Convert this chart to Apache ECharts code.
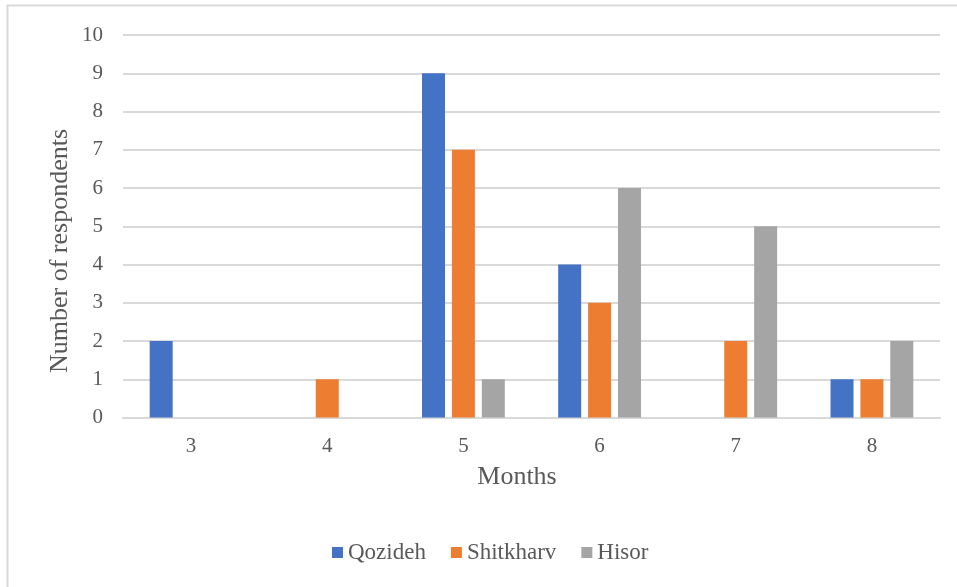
<!DOCTYPE html>
<html>
<head>
<meta charset="utf-8">
<script src="https://cdn.jsdelivr.net/npm/echarts@6/dist/echarts.min.js"></script>
<style>
  html, body { margin: 0; padding: 0; background: #fff; }
  #chart { width: 957px; height: 587px; }
</style>
</head>
<body>
<div id="chart"></div>
<script>
// Months of stay and respondent counts per village
const months = ['3', '4', '5', '6', '7', '8'];
const qozideh = [2, 0, 9, 4, 0, 1];
const shitkharv = [0, 1, 7, 3, 2, 1];
const hisor = [0, 0, 1, 6, 5, 2];
const yTicks = { min: 0, max: 10, interval: 1 };

const font = '"Liberation Serif", "Times New Roman", serif';
const textGray = '#595959';

const chart = echarts.init(document.getElementById('chart'), null, { renderer: 'canvas' });

function barSeries(name, data, color) {
  return {
    name: name,
    type: 'bar',
    data: data.map(v => (v === 0 ? null : v)),
    barWidth: 23,
    barGap: '30%',
    itemStyle: { color: color },
    emphasis: { disabled: true }
  };
}

chart.setOption({
  animation: false,
  backgroundColor: '#fff',
  color: ['#4472C4', '#ED7D31', '#A5A5A5'],
  grid: { left: 123, right: 17, top: 35, bottom: 169.5 },
  graphic: [
    {
      type: 'rect',
      shape: { x: 7.5, y: 5.5, width: 1000, height: 1000 },
      style: { fill: 'none', stroke: '#d9d9d9', lineWidth: 2 },
      silent: true
    },
    {
      type: 'text',
      x: 60, y: 251, rotation: Math.PI / 2,
      style: {
        text: 'Number of respondents', font: '26px ' + font, fill: textGray,
        textAlign: 'center', textVerticalAlign: 'middle'
      }
    },
    {
      type: 'text',
      x: 517, y: 477,
      style: {
        text: 'Months', font: '26px ' + font, fill: textGray,
        textAlign: 'center', textVerticalAlign: 'middle'
      }
    }
  ],
  legend: {
    left: 327, top: 536,
    itemWidth: 11, itemHeight: 11, itemGap: 25,
    icon: 'rect',
    textStyle: { fontFamily: font, fontSize: 23, color: textGray },
    data: ['Qozideh', 'Shitkharv', 'Hisor']
  },
  xAxis: {
    type: 'category',
    data: months,
    axisLine: { show: true, lineStyle: { color: '#d9d9d9', width: 2 } },
    axisTick: { show: false },
    axisLabel: { color: textGray, fontFamily: font, fontSize: 21, margin: 18 }
  },
  yAxis: {
    type: 'value',
    min: yTicks.min, max: yTicks.max, interval: yTicks.interval,
    axisLine: { show: false },
    axisTick: { show: false },
    splitLine: { lineStyle: { color: '#d9d9d9', width: 2 } },
    axisLabel: { color: textGray, fontFamily: font, fontSize: 21, margin: 20 }
  },
  series: [
    barSeries('Qozideh', qozideh, '#4472C4'),
    barSeries('Shitkharv', shitkharv, '#ED7D31'),
    barSeries('Hisor', hisor, '#A5A5A5')
  ]
});
</script>
</body>
</html>
